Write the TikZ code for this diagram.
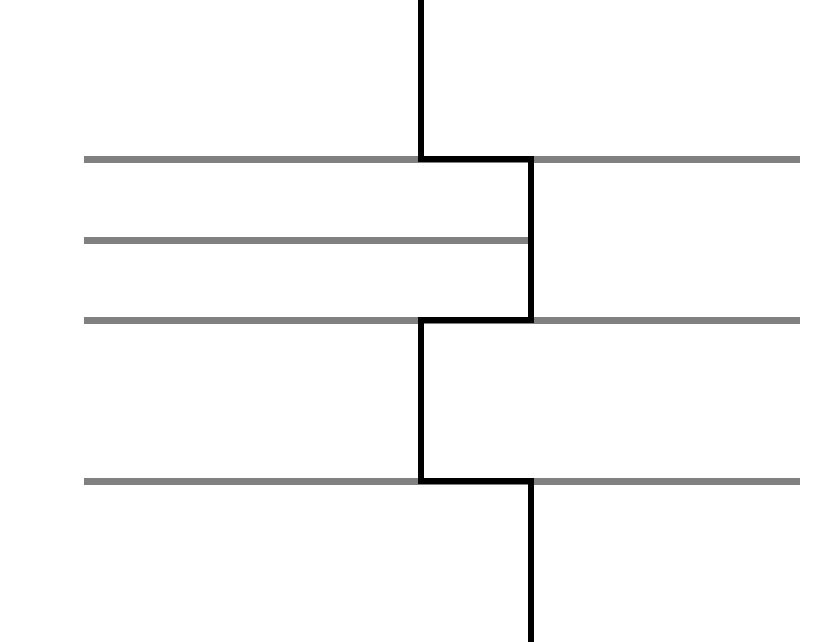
\documentclass[tikz,border=0pt]{standalone}
\begin{document}
\begin{tikzpicture}[x=1pt,y=-1pt,
  grayline/.style={draw={rgb,255:red,128;green,128;blue,128},line width=7pt},
  blackline/.style={draw=black,line width=6.5pt,line join=miter}]
\useasboundingbox[fill=white] (0,0) rectangle (831,641);
\coordinate (g1l) at (84,159); \coordinate (g1r) at (800,159);
\coordinate (g2l) at (84,240); \coordinate (g2r) at (528,240);
\coordinate (g3l) at (84,320); \coordinate (g3r) at (800,320);
\coordinate (g4l) at (84,481); \coordinate (g4r) at (800,481);
\draw[grayline] (g1l) -- (g1r);
\draw[grayline] (g2l) -- (g2r);
\draw[grayline] (g3l) -- (g3r);
\draw[grayline] (g4l) -- (g4r);
\coordinate (top) at (421,-5);
\coordinate (p1) at (421,159); \coordinate (p2) at (531,159);
\coordinate (p3) at (531,320); \coordinate (p4) at (421,320);
\coordinate (p5) at (421,481); \coordinate (p6) at (531,481);
\coordinate (bot) at (531,646);
\draw[blackline] (top) -- (p1) -- (p2) -- (p3) -- (p4) -- (p5) -- (p6) -- (bot);
\end{tikzpicture}
\end{document}
